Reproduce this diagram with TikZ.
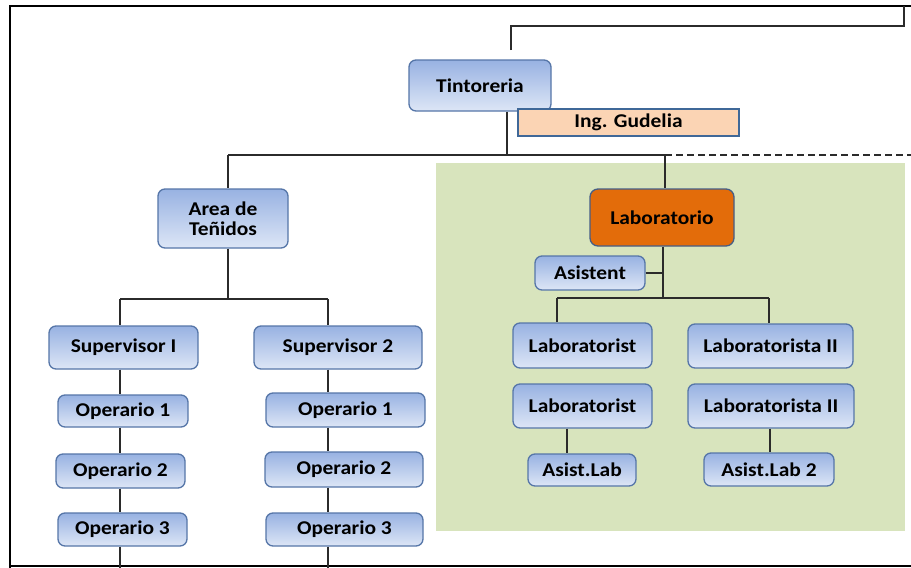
\documentclass[tikz,border=0pt]{standalone}
\usepackage{fontspec}
\setmainfont{Carlito}[FakeStretch=1.1]
\begin{document}
\begin{tikzpicture}[x=1pt,y=-1pt,
  line width=1.3pt,
  txt/.style={font=\fontsize{19.5}{20}\selectfont\bfseries, text=black, align=center, inner sep=0pt},
  bx/.style={txt, draw=bordercol, line width=1.3pt, rounded corners=7pt,
    top color=boxtop, bottom color=boxbot},
  conn/.style={draw=linecol, line width=1.4pt},
]
\definecolor{boxtop}{HTML}{98B2E2}
\definecolor{boxbot}{HTML}{DDE6F6}
\definecolor{bordercol}{HTML}{5676A8}
\definecolor{linecol}{HTML}{2B2B2B}
\definecolor{labgreen}{HTML}{D8E4BD}
\definecolor{laborange}{HTML}{E36C0A}
\definecolor{peach}{HTML}{FBD4B4}
\definecolor{gudborder}{HTML}{3F6898}

\useasboundingbox (0,0) rectangle (911,568);
\fill[white] (0,0) rectangle (911,568);

% laboratory area
\fill[labgreen] (436,163) rectangle (905,531);

% outer frame
\draw[black, line width=2.2pt] (911,6) -- (10,6) -- (10,568);
\draw[black, line width=2.2pt] (10,566) -- (911,566);

% boxes
\node[bx, minimum width=142pt, minimum height=51pt] (tint) at (480,85.5) {Tintoreria};
\node[txt, draw=gudborder, line width=2pt, fill=peach, minimum width=221pt, minimum height=27pt] (gud) at (628.5,122.5) {Ing. Gudelia};

\node[bx, minimum width=130pt, minimum height=59pt] (area) at (223,218.5) {Area de\\Teñidos};
\node[bx, minimum width=149pt, minimum height=43pt] (sup1) at (123.5,347.5) {Supervisor I};
\node[bx, minimum width=168pt, minimum height=43pt] (sup2) at (338,347.5) {Supervisor 2};

\node[bx, minimum width=130pt, minimum height=32pt] (opa) at (123,411) {Operario 1};
\node[bx, minimum width=129pt, minimum height=34pt] (opb) at (120.5,471) {Operario 2};
\node[bx, minimum width=129pt, minimum height=33pt] (opc) at (122.5,529.5) {Operario 3};
\node[bx, minimum width=159pt, minimum height=34pt] (opd) at (345.5,410) {Operario 1};
\node[bx, minimum width=158pt, minimum height=35pt] (ope) at (344,469.5) {Operario 2};
\node[bx, minimum width=157pt, minimum height=33pt] (opf) at (344.5,529.5) {Operario 3};

\node[txt, draw=bordercol!80!black, line width=1.3pt, rounded corners=8pt, fill=laborange,
      minimum width=144pt, minimum height=57pt] (lab) at (662,217.5) {Laboratorio};
\node[bx, minimum width=110pt, minimum height=34pt] (asis) at (590,273) {Asistent};
\node[bx, minimum width=139pt, minimum height=45pt] (laba) at (582.5,345.5) {Laboratorist};
\node[bx, minimum width=165pt, minimum height=44pt] (labb) at (770.5,346) {Laboratorista II};
\node[bx, minimum width=139pt, minimum height=44pt] (labc) at (582.5,406) {Laboratorist};
\node[bx, minimum width=166pt, minimum height=44pt] (labd) at (771,406) {Laboratorista II};
\node[bx, minimum width=108pt, minimum height=32pt] (asla) at (582,470) {Asist.Lab};
\node[bx, minimum width=130pt, minimum height=33pt] (aslb) at (769,469.5) {Asist.Lab 2};

% junction points
\coordinate (top) at (904,6);
\coordinate (ttop) at (511,50);
\coordinate (j1) at (507,155);
\coordinate (jl) at (228,155);
\coordinate (jr) at (665,155);
\coordinate (jend) at (911,155);
\coordinate (ja) at (228,299);
\coordinate (c1) at (120,0);
\coordinate (c2) at (328,0);
\coordinate (jlab) at (663,298);
\coordinate (k1) at (557,0);
\coordinate (k2) at (769,0);
\coordinate (k3) at (567,0);
\coordinate (k4) at (770,0);
\coordinate (bot1) at (120,568);
\coordinate (bot2) at (328,568);

% connectors
\draw[conn] (ttop) -- (511,26) -| (top);
\draw[conn] (j1 |- tint.south) -- (j1);
\draw[conn] (jl) -- (jr);
\draw[conn, dashed, dash pattern=on 7pt off 4pt] (jr) -- (jend);
\draw[conn] (jl) -- (area.north -| jl);
\draw[conn] (jr) -- (lab.north -| jr);

\draw[conn] (area.south -| ja) -- (ja);
\draw[conn] (c1 |- ja) -- (c2 |- ja);
\draw[conn] (c1 |- ja) -- (c1 |- sup1.north);
\draw[conn] (c2 |- ja) -- (c2 |- sup2.north);

\draw[conn] (c1 |- sup1.south) -- (c1 |- opa.north);
\draw[conn] (c1 |- opa.south) -- (c1 |- opb.north);
\draw[conn] (c1 |- opb.south) -- (c1 |- opc.north);
\draw[conn] (c1 |- opc.south) -- (bot1);
\draw[conn] (c2 |- sup2.south) -- (c2 |- opd.north);
\draw[conn] (c2 |- opd.south) -- (c2 |- ope.north);
\draw[conn] (c2 |- ope.south) -- (c2 |- opf.north);
\draw[conn] (c2 |- opf.south) -- (bot2);

\draw[conn] (jlab |- lab.south) -- (jlab);
\draw[conn] (asis.east) -- (asis.east -| jlab);
\draw[conn] (k1 |- jlab) -- (k2 |- jlab);
\draw[conn] (k1 |- jlab) -- (k1 |- laba.north);
\draw[conn] (k2 |- jlab) -- (k2 |- labb.north);
\draw[conn] (k3 |- labc.south) -- (k3 |- asla.north);
\draw[conn] (k4 |- labd.south) -- (k4 |- aslb.north);
\end{tikzpicture}
\end{document}
